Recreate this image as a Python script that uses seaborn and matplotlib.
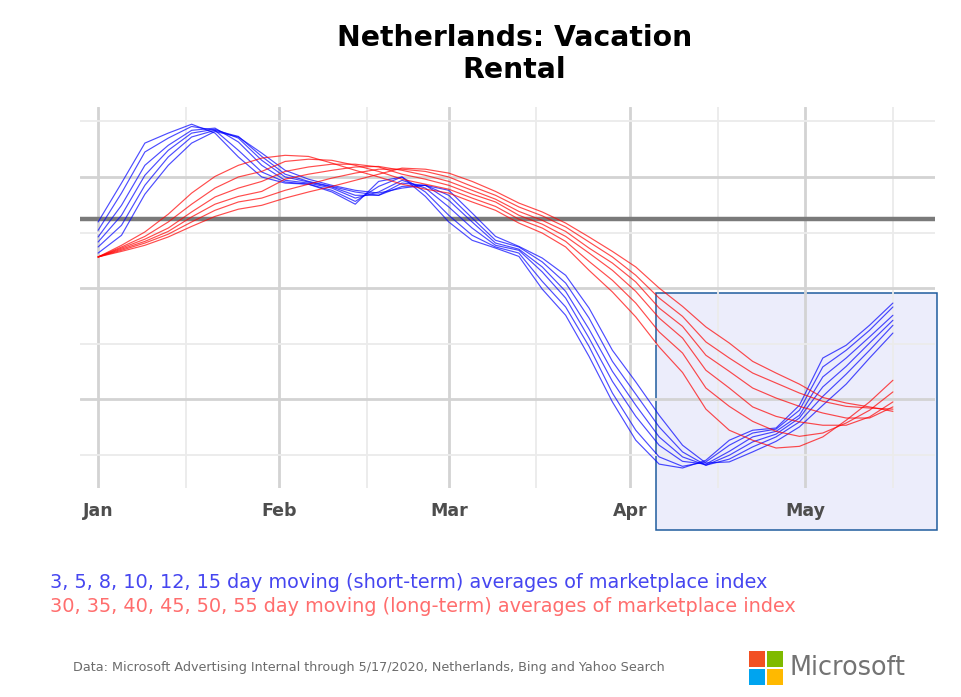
import pandas as pd
import matplotlib
matplotlib.use('Agg')
import matplotlib.pyplot as plt
import matplotlib.dates as mdates
from matplotlib.patches import Rectangle
import seaborn as sns

# every 4th day, Jan 1 .. May 16 2020
dates = pd.date_range('2020-01-01', periods=35, freq='4D')

# short-term moving averages of the marketplace index
ma_3 = [91.9, 98.9, 106.1, 107.9, 109.5, 107.9, 103.6, 100.0, 98.9, 98.7, 97.3, 95.1, 99.2, 100.0, 96.5, 91.9, 88.6, 87.2,
        85.7, 79.8, 75.1, 67.7, 59.5, 52.6, 48.3, 47.6, 49.0, 52.6, 54.4, 54.8, 58.9, 67.4, 69.7, 73.3, 77.3]
ma_5 = [90.4, 97.1, 104.5, 107.0, 109.1, 108.4, 104.8, 100.9, 99.1, 98.7, 97.6, 95.6, 98.3, 100.0, 97.3, 93.1, 89.5, 87.4,
        86.3, 81.2, 76.6, 69.5, 61.1, 54.4, 49.6, 47.9, 48.7, 51.7, 53.9, 54.6, 58.0, 65.8, 68.8, 72.4, 76.6]
ma_8 = [89.2, 94.9, 102.1, 105.7, 108.4, 108.8, 106.3, 102.1, 99.4, 98.9, 98.0, 96.2, 97.3, 99.4, 98.0, 94.6, 90.8, 87.7,
        86.8, 82.9, 78.2, 71.0, 63.2, 56.9, 51.7, 48.8, 48.3, 50.6, 53.2, 54.2, 57.1, 64.0, 67.4, 71.2, 75.1]
ma_10 = [88.3, 93.1, 100.3, 104.8, 107.9, 108.6, 107.0, 103.0, 100.0, 99.1, 98.2, 96.7, 96.7, 98.9, 98.5, 95.8, 91.9, 88.1,
         87.0, 83.8, 79.4, 72.6, 65.0, 58.9, 53.2, 49.6, 48.1, 49.9, 52.3, 53.7, 56.6, 62.2, 65.9, 70.1, 74.2]
ma_12 = [87.4, 91.3, 98.5, 103.6, 107.2, 108.4, 107.3, 103.7, 100.5, 99.2, 98.3, 97.3, 96.7, 98.3, 98.5, 96.7, 92.6, 88.6,
         87.4, 84.7, 80.9, 74.6, 66.8, 60.9, 55.0, 50.5, 48.1, 49.2, 51.4, 53.2, 55.9, 60.5, 64.5, 68.8, 73.3]
ma_15 = [86.3, 89.5, 96.9, 102.1, 106.1, 108.2, 107.2, 104.3, 101.2, 99.6, 98.5, 97.6, 97.1, 98.0, 98.5, 97.6, 93.5, 89.3,
         87.5, 85.4, 82.3, 76.4, 68.8, 63.1, 57.1, 51.7, 48.5, 48.7, 50.5, 52.4, 55.0, 58.9, 62.7, 67.4, 71.9]

# long-term moving averages
ma_30 = [85.6, 87.7, 90.1, 93.3, 97.1, 100.1, 102.1, 103.4, 103.9, 103.7, 102.5, 101.2, 100.0, 98.7, 97.8, 97.1, 95.5, 94.0,
         91.7, 89.9, 87.4, 83.2, 79.3, 74.8, 69.4, 64.8, 58.2, 54.4, 52.6, 51.2, 51.5, 53.2, 56.2, 59.5, 63.4]
ma_35 = [85.6, 87.4, 89.3, 91.9, 95.1, 98.0, 100.0, 101.0, 102.8, 103.2, 103.0, 102.1, 101.0, 99.6, 98.7, 97.8, 96.2, 94.7,
         92.4, 90.8, 88.4, 84.8, 81.4, 77.3, 72.1, 68.3, 62.0, 58.7, 56.0, 54.2, 53.3, 53.9, 55.7, 58.0, 61.3]
ma_40 = [85.6, 87.2, 88.8, 90.8, 93.7, 96.4, 98.0, 99.2, 101.0, 101.8, 102.3, 102.3, 101.8, 100.5, 99.6, 98.5, 96.9, 95.5,
         93.1, 91.5, 89.3, 86.3, 83.2, 79.4, 74.6, 71.0, 65.2, 62.0, 58.6, 56.9, 55.9, 55.3, 55.3, 56.8, 59.5]
ma_45 = [85.6, 87.0, 88.4, 90.2, 92.8, 95.1, 96.5, 97.4, 99.6, 100.5, 101.2, 101.8, 101.9, 101.2, 100.3, 99.2, 97.6, 96.0,
         93.8, 92.2, 90.2, 87.2, 84.5, 81.1, 76.4, 73.1, 67.9, 65.0, 62.0, 60.2, 58.7, 57.5, 56.6, 56.6, 58.6]
ma_50 = [85.6, 86.8, 88.1, 89.7, 91.9, 94.0, 95.5, 96.2, 97.6, 98.7, 99.8, 100.7, 101.4, 101.4, 101.0, 100.0, 98.3, 96.7,
         94.6, 93.0, 91.0, 88.3, 85.6, 82.3, 78.2, 74.9, 70.3, 67.4, 64.7, 62.9, 61.1, 59.6, 58.7, 58.4, 58.2]
ma_55 = [85.6, 86.6, 87.7, 89.2, 91.1, 92.9, 94.2, 94.9, 96.2, 97.3, 98.3, 99.4, 100.5, 101.6, 101.4, 100.7, 99.2, 97.4,
         95.3, 93.7, 91.7, 89.2, 86.6, 83.8, 80.0, 76.7, 73.0, 70.1, 66.8, 64.7, 62.7, 60.3, 59.3, 58.6, 57.8]

baseline = 92.4

short_term = {'3': ma_3, '5': ma_5, '8': ma_8, '10': ma_10, '12': ma_12, '15': ma_15}
long_term = {'30': ma_30, '35': ma_35, '40': ma_40, '45': ma_45, '50': ma_50, '55': ma_55}

frames = []
palette = {}
for name, vals in list(short_term.items()) + list(long_term.items()):
    frames.append(pd.DataFrame({'date': dates, 'index': vals, 'window': name}))
    palette[name] = '#0000ff' if name in short_term else '#ff0000'
df = pd.concat(frames, ignore_index=True)

sns.set_style('white')
plt.rcParams['font.family'] = ['DejaVu Sans']

fig = plt.figure(figsize=(9.61, 6.97), dpi=100)
ax = fig.add_axes([80 / 961, 1 - 488 / 697, 855 / 961, 381 / 697])

sns.lineplot(data=df, x='date', y='index', hue='window', palette=palette, estimator=None,
             legend=False, linewidth=0.85, alpha=0.7, ax=ax)

ax.axhline(baseline, color='#7a7a7a', linewidth=3.2, zorder=1.8)

start = pd.Timestamp('2020-01-01')
ax.set_xlim(start - pd.Timedelta(days=3.1), start + pd.Timedelta(days=143.2))
ax.set_ylim(44.0, 112.6)

# highlighted recent period
x0 = mdates.date2num(pd.Timestamp('2020-04-05 12:00'))
x1 = mdates.date2num(pd.Timestamp('2020-05-23 14:00'))
ax.add_patch(Rectangle((x0, 36.4), x1 - x0, 42.7, facecolor='#ecedfb', edgecolor='#1f5c9e',
                       linewidth=1.1, zorder=1.2, clip_on=False))

ax.xaxis.set_major_locator(mdates.MonthLocator())
ax.xaxis.set_minor_locator(mdates.MonthLocator(bymonthday=16))
ax.xaxis.set_major_formatter(mdates.DateFormatter('%b'))
ax.set_yticks([60, 80, 100])
ax.set_yticks([50, 70, 90, 110], minor=True)
ax.set_yticklabels([])
ax.set_axisbelow('line')
ax.grid(which='major', color='#d3d3d3', linewidth=2.0)
ax.grid(which='minor', color='#ebebeb', linewidth=1.3)
ax.tick_params(which='both', length=0)
ax.tick_params(axis='x', pad=10, labelsize=12.5, labelcolor='#4d4d4d')
for lbl in ax.get_xticklabels():
    lbl.set_fontweight('bold')
ax.set_xlabel('')
ax.set_ylabel('')
for s in ax.spines.values():
    s.set_visible(False)

fig.text(0.535, 1 - 24 / 697, 'Netherlands: Vacation\nRental', ha='center', va='top',
         fontsize=20.3, fontweight='bold', color='black', linespacing=1.2)

fig.text(50 / 961, 1 - 582 / 697, '3, 5, 8, 10, 12, 15 day moving (short-term) averages of marketplace index',
         ha='left', va='center', fontsize=13.9, color='#4646f0')
fig.text(50 / 961, 1 - 607 / 697, '30, 35, 40, 45, 50, 55 day moving (long-term) averages of marketplace index',
         ha='left', va='center', fontsize=13.9, color='#ff6e6e')
fig.text(73 / 961, 1 - 668 / 697,
         'Data: Microsoft Advertising Internal through 5/17/2020, Netherlands, Bing and Yahoo Search',
         ha='left', va='center', fontsize=9.2, color='#6b6b6b')

# Microsoft logo
sq_w, sq_h = 16 / 961, 16 / 697
logo = [(749, 667, '#f25022'), (767, 667, '#7fba00'), (749, 685, '#00a4ef'), (767, 685, '#ffb900')]
for lx, ly, col in logo:
    fig.add_artist(Rectangle((lx / 961, 1 - ly / 697), sq_w, sq_h, transform=fig.transFigure,
                             facecolor=col, edgecolor='none'))
fig.text(790 / 961, 1 - 668 / 697, 'Microsoft', ha='left', va='center', fontsize=18.4, color='#737373')

fig.savefig('out.png', dpi=100)
